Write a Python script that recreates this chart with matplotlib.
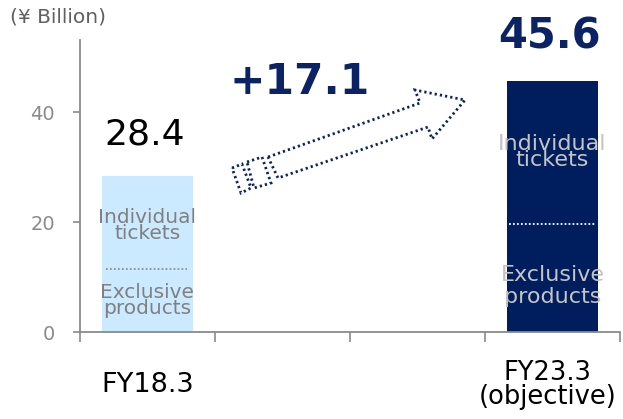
import matplotlib
matplotlib.use("Agg")
import matplotlib.pyplot as plt
from matplotlib.patches import Polygon
from matplotlib.transforms import blended_transform_factory

categories = ["FY18.3", "", "", "FY23.3\n(objective)"]
values = [28.4, None, None, 45.6]
bar_colors = ["#cceaff", None, None, "#001e5e"]
value_labels = ["28.4", "45.6"]
increase_label = "+17.1"
y_ticks = [0, 20, 40]
unit_label = "(¥ Billion)"
seg_top = "Individual\ntickets"
seg_bottom = "Exclusive\nproducts"

W, H = 623, 419
fig = plt.figure(figsize=(W / 100, H / 100), dpi=100)
plt.rcParams['font.family'] = ['DejaVu Sans']
ax = fig.add_axes([80 / W, (H - 332) / H, 540 / W, 292 / H])

navy = "#0b2265"
gray = "#8a8a8a"

xs = list(range(len(categories)))
bw = 0.667
for x, v, c in zip(xs, values, bar_colors):
    if v is not None:
        ax.bar(x, v, width=bw, color=c, zorder=2)

ax.set_xlim(-0.5, 3.5)
ax.set_ylim(0, 53.1)

# ticks
ax.set_yticks(y_ticks)
ax.tick_params(axis='y', colors=gray, labelsize=14, length=5, width=1.2, pad=13)
ax.set_xticks([-0.5, 0.5, 1.5, 2.5, 3.5])
ax.set_xticklabels([])
ax.tick_params(axis='x', which='major', colors=gray, length=7.5, width=1.2)

# category labels, vertically centred below the axis
trans = blended_transform_factory(ax.transData, fig.transFigure)
label_dx = [0.0, 0, 0, -0.035]
label_fs = [19.5, 0, 0, 18.5]
for x, lab, dx, fs in zip(xs, categories, label_dx, label_fs):
    if lab:
        ax.text(x + dx, 1 - 385 / H, lab, transform=trans, ha='center', va='center',
                fontsize=fs, color='black', linespacing=0.92, clip_on=False)

for s in ["top", "right"]:
    ax.spines[s].set_visible(False)
for s in ["left", "bottom"]:
    ax.spines[s].set_color(gray)
    ax.spines[s].set_linewidth(1.3)

def px2data_y(py):
    return (332 - py) / 5.5

# value labels
ax.text(-0.02, px2data_y(134), value_labels[0], ha='center', va='center',
        fontsize=26, color='black')
ax.text(2.98, px2data_y(36), value_labels[1], ha='center', va='center',
        fontsize=30, color=navy, fontweight='bold')

# unit label
fig.text(10 / W, 1 - 17 / H, unit_label, ha='left', va='center', fontsize=14.5, color="#606060")

# segment labels: light bar
ax.text(0, px2data_y(225), seg_top, ha='center', va='center', fontsize=14.5,
        color="#808080", linespacing=0.8, zorder=3)
ax.plot([-0.31, 0.29], [px2data_y(269)] * 2, color="#909090", lw=1.3,
        linestyle=(0, (1, 1.2)), zorder=3)
ax.text(0, px2data_y(300), seg_bottom, ha='center', va='center', fontsize=14.5,
        color="#808080", linespacing=0.8, zorder=3)

# segment labels: dark bar
ax.text(3, px2data_y(152), seg_top, ha='center', va='center', fontsize=16,
        color="#c4c4c4", linespacing=0.72, zorder=3)
ax.plot([2.68, 3.32], [px2data_y(224)] * 2, color="white", lw=1.3,
        linestyle=(0, (1, 1.2)), zorder=3)
ax.text(3, px2data_y(286), seg_bottom, ha='center', va='center', fontsize=16,
        color="#c4c4c4", linespacing=1.12, zorder=3)

# increase label
fig.text(300 / W, 1 - 82 / H, increase_label, ha='center', va='center',
         fontsize=30.5, color=navy, fontweight='bold')

# arrow decoration (figure pixel coords)
def fp(pts):
    return [(x / W, 1 - y / H) for x, y in pts]

shaft = [(268, 157), (420, 103), (415, 90), (465, 100), (432, 139), (428, 127), (278, 178)]
rect2 = [(247, 162), (262, 157), (271, 183), (254, 188)]
rect1 = [(232, 168), (242, 164), (251, 188), (241, 193)]
for pts in (shaft, rect2, rect1):
    fig.patches.append(Polygon(fp(pts), closed=True, transform=fig.transFigure,
                               facecolor='white', edgecolor=navy, lw=2.0,
                               linestyle=(0, (0.8, 1.1))))

fig.savefig("out.png", dpi=100)
